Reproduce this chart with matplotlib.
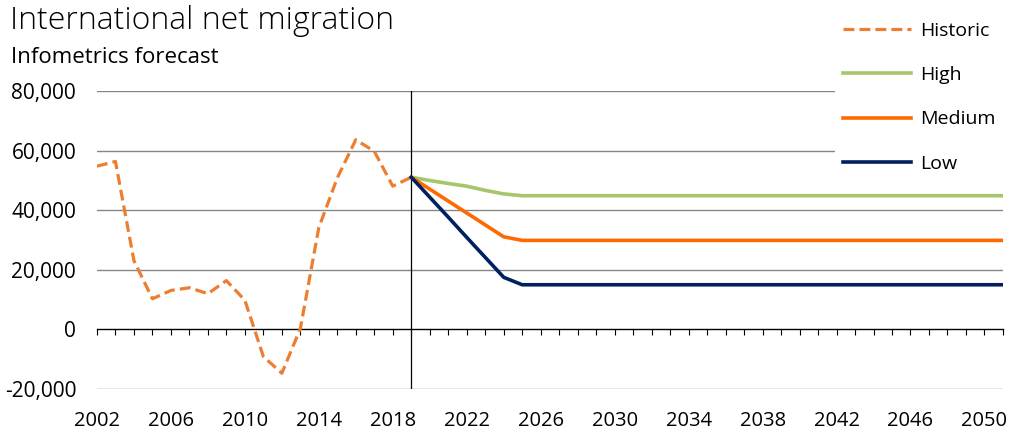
import matplotlib.pyplot as plt
from matplotlib.ticker import FuncFormatter, MultipleLocator

plt.rcParams['font.family'] = ['Open Sans', 'DejaVu Sans']

# historic series
hist_years = [2002, 2003, 2004, 2005, 2006, 2007, 2008, 2009, 2010, 2011,
              2012, 2013, 2014, 2015, 2016, 2017, 2018, 2019]
historic = [54800, 56400, 23100, 10300, 13100, 14000, 12000, 16400, 9800, -9100,
            -14700, 300, 34200, 50900, 63700, 59800, 48100, 51100]

# forecasts are flat after 2025 out to the end of the axis
fc_years = [2019, 2020, 2021, 2022, 2023, 2024, 2025, 2051]
high = [51100, 50000, 49000, 48100, 46700, 45500, 44900, 44900]
medium = [51100, 47100, 43100, 39100, 35100, 31100, 29900, 29900]
low = [51100, 44400, 37700, 30900, 24200, 17500, 15000, 15000]

label_years = list(range(2002, 2051, 4))

fig = plt.figure(figsize=(10.1, 4.32), dpi=100)
ax = fig.add_axes([0.096, 0.0995, 0.897, 0.6895])

ax.set_xlim(2002, 2051)
ax.set_ylim(-20000, 80000)

for yv in [-20000, 20000, 40000, 60000, 80000]:
    ax.axhline(yv, color='#868686', lw=1.0, zorder=1)
ax.axvline(2019, color='black', lw=0.9, zorder=2)

ax.plot(hist_years, historic, color='#ED7D31', lw=2.3, linestyle=(0, (3.4, 1.6)), label='Historic', zorder=3)
ax.plot(fc_years, high, color='#A5C66A', lw=2.6, label='High', zorder=4)
ax.plot(fc_years, medium, color='#FF6A00', lw=2.6, label='Medium', zorder=4)
ax.plot(fc_years, low, color='#002060', lw=2.6, label='Low', zorder=4)

for s in ['top', 'right', 'left']:
    ax.spines[s].set_visible(False)
ax.spines['bottom'].set_position(('data', 0))
ax.spines['bottom'].set_color('black')
ax.spines['bottom'].set_linewidth(1.0)

ax.set_xticks(label_years)
ax.xaxis.set_minor_locator(MultipleLocator(1))
ax.tick_params(axis='x', which='both', direction='out', length=4, width=0.8, color='black')
ax.tick_params(axis='x', which='major', pad=55, labelsize=14.5)
ax.set_yticks([-20000, 0, 20000, 40000, 60000, 80000])
ax.yaxis.set_major_formatter(FuncFormatter(lambda v, p: f'{int(v):,}'))
ax.tick_params(axis='y', length=0, pad=15, labelsize=15)

fig.text(0.01, 0.952, 'International net migration', fontsize=23, fontweight='light', va='center', ha='left')
fig.text(0.011, 0.868, 'Infometrics forecast', fontsize=16, va='center', ha='left')

leg = fig.legend(loc='upper right', bbox_to_anchor=(1.003, 0.99), fontsize=14,
                 handlelength=3.5, labelspacing=1.35, frameon=True, framealpha=1,
                 facecolor='white', edgecolor='none', borderpad=0.4, handletextpad=0.45)

fig.savefig('out.png', dpi=100)
